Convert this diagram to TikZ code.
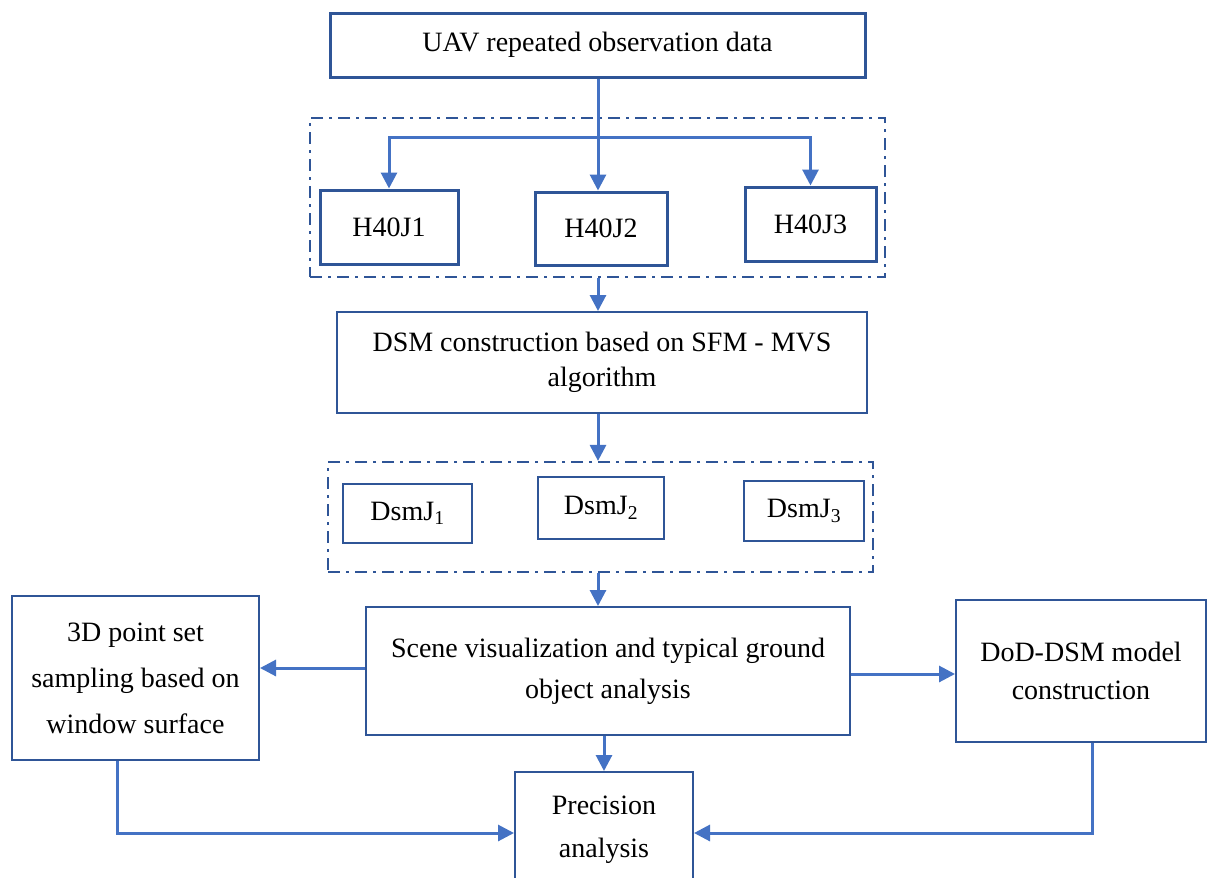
\documentclass[tikz,border=0pt]{standalone}
\usepackage{fontspec}
\setmainfont{Liberation Serif}
\usetikzlibrary{arrows.meta}
\definecolor{boxblue}{HTML}{2F5597}
\definecolor{arrblue}{HTML}{4472C4}
\tikzset{
  box/.style={draw=boxblue, line width=2pt, rectangle, align=center, inner sep=0pt, text=black,
    font=\fontsize{28}{41}\selectfont},
  thickbox/.style={box, line width=3pt},
  grp/.style={draw=boxblue, line width=2.2pt, rectangle, inner sep=0pt,
    dash pattern=on 12pt off 6pt on 3pt off 6pt},
  arr/.style={draw=arrblue, line width=3pt, -{Triangle[length=16pt,width=16pt]}},
  line/.style={draw=arrblue, line width=3pt}
}
\begin{document}
\begin{tikzpicture}[x=1pt,y=-1pt]
\useasboundingbox (0,0) rectangle (1208,878);
\clip (0,0) rectangle (1208,878);
\fill[white] (0,0) rectangle (1208,878);

\node[thickbox, minimum width=535pt, minimum height=64pt] (top) at (597.5,45) {UAV repeated observation data};

\node[grp, minimum width=575pt, minimum height=159pt] (grp1) at (597.5,197.5) {};
\node[thickbox, minimum width=138pt, minimum height=74pt] (h1) at (389,227) {H40J1};
\node[thickbox, minimum width=132pt, minimum height=73pt] (h2) at (601,228.5) {H40J2};
\node[thickbox, minimum width=131pt, minimum height=74pt] (h3) at (810.5,224) {H40J3};

\node[box, minimum width=530pt, minimum height=101pt, font=\fontsize{28}{35}\selectfont] (dsm) at (602,362.5) {DSM construction based on SFM - MVS\\algorithm};

\node[grp, minimum width=545pt, minimum height=110pt] (grp2) at (600.5,517) {};
\node[box, minimum width=129pt, minimum height=59pt] (d1) at (407.5,513.5) {DsmJ\textsubscript{1}};
\node[box, minimum width=126pt, minimum height=62pt] (d2) at (601,508) {DsmJ\textsubscript{2}};
\node[box, minimum width=120pt, minimum height=60pt] (d3) at (804,511) {DsmJ\textsubscript{3}};

\node[box, minimum width=484pt, minimum height=128pt] (scene) at (608,671) {Scene visualization and typical ground\\object analysis};
\node[box, minimum width=247pt, minimum height=164pt, font=\fontsize{28}{46}\selectfont] (left) at (135.5,678) {3D point set\\sampling based on\\window surface};
\node[box, minimum width=250pt, minimum height=142pt, font=\fontsize{28}{38}\selectfont] (dod) at (1081,671) {DoD-DSM model\\construction};
\node[box, minimum width=178pt, minimum height=116pt, font=\fontsize{28}{43}\selectfont] (prec) at (604,830) {Precision\\analysis};

% connectors
\coordinate (j1) at (598,137);
\draw[arr] (598,0 |- top.south) -- (598,0 |- h2.north);
\draw[arr] (j1) -| (h1.north);
\draw[arr] (j1) -| (h3.north);
\draw[arr] (598,0 |- grp1.south) -- (598,0 |- dsm.north);
\draw[arr] (598,0 |- dsm.south) -- (598,0 |- grp2.north);
\draw[arr] (598,0 |- grp2.south) -- (598,0 |- scene.north);
\draw[arr] ([yshift=3pt]scene.west) -- ([yshift=3pt]scene.west -| left.east);
\draw[arr] ([yshift=-3pt]scene.east) -- ([yshift=-3pt]scene.east -| dod.west);
\draw[arr] (604,0 |- scene.south) -- (604,0 |- prec.north);
\draw[arr] ([xshift=-18.5pt]left.south) |- ([yshift=-3pt]prec.west);
\draw[arr] ([xshift=11pt]dod.south) |- ([yshift=-3pt]prec.east);
\end{tikzpicture}
\end{document}
